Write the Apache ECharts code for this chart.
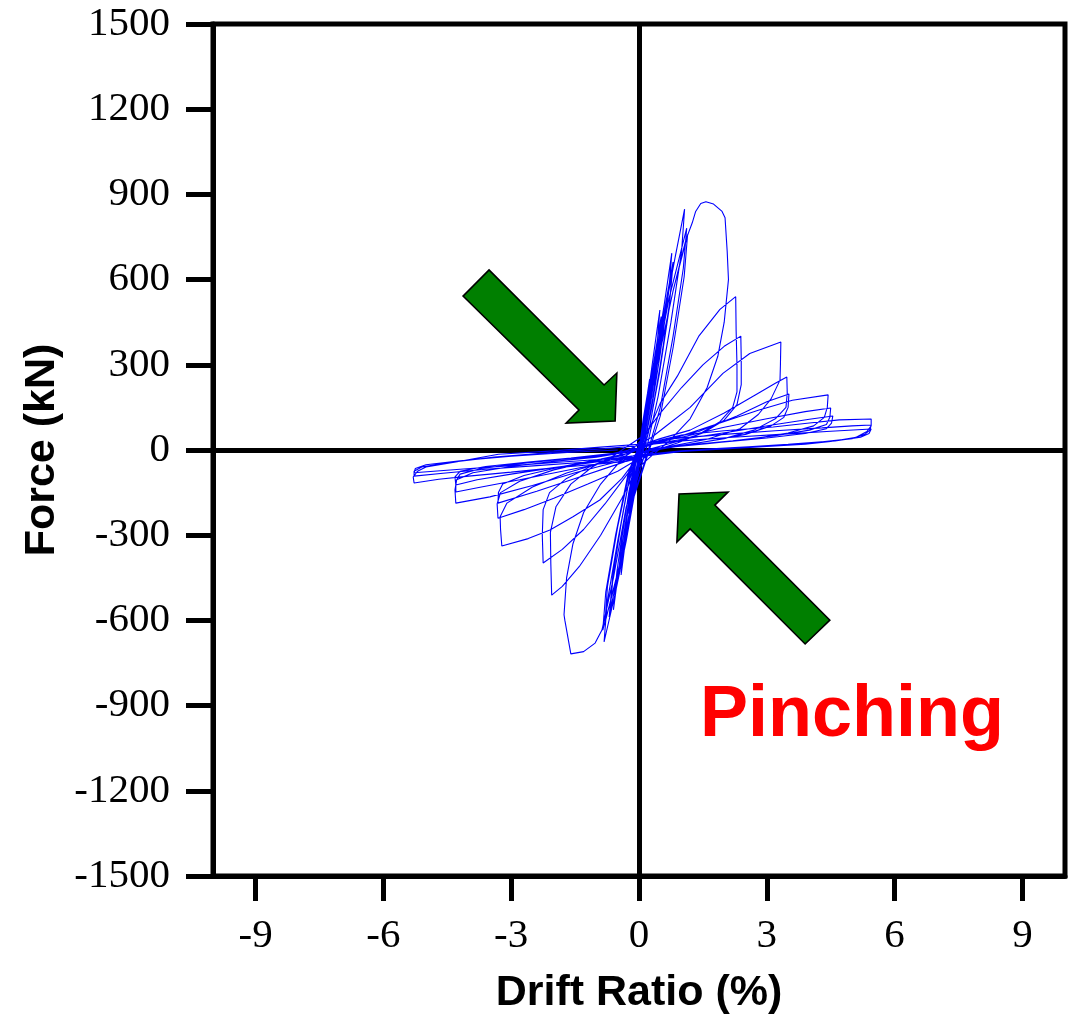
<!DOCTYPE html>
<html><head><meta charset="utf-8">
<script src="https://cdn.jsdelivr.net/npm/echarts@6/dist/echarts.min.js"></script>
<style>html,body{margin:0;padding:0;background:#fff}#c{width:1071px;height:1017px}</style>
</head><body><div id="c"></div>
<script>
// Tick labels
const xTicks = [-9, -6, -3, 0, 3, 6, 9];
const yTicks = [-1500, -1200, -900, -600, -300, 0, 300, 600, 900, 1200, 1500];

// Hysteresis cycles: [drift %, force kN]
const loop01 = [[0,0],[0.1,110],[0.2,200],[0.25,250],[0.2,170],[0.1,60],[0,-10],[-0.1,-100],[-0.22,-230],[-0.17,-150],[-0.08,-50],[0,0]];
const loop02 = [[0,0],[0.12,110],[0.27,240],[0.21,160],[0.08,40],[-0.02,-30],[-0.12,-110],[-0.24,-225],[-0.18,-140],[-0.06,-30],[0.02,10]];
const loop03 = [[0.02,10],[0.15,130],[0.3,290],[0.42,420],[0.49,493],[0.43,380],[0.3,220],[0.12,50],[-0.02,-40],[-0.15,-150],[-0.3,-300],[-0.42,-440],[-0.36,-330],[-0.22,-170],[-0.05,-20],[0.05,20]];
const loop04 = [[0.05,20],[0.2,170],[0.38,340],[0.52,470],[0.45,360],[0.3,190],[0.12,40],[-0.05,-60],[-0.2,-200],[-0.45,-430],[-0.38,-320],[-0.22,-160],[-0.05,-20],[0.05,25]];
const loop04b = [[0.05,25],[0.22,180],[0.4,340],[0.54,455],[0.47,350],[0.32,180],[0.14,35],[-0.04,-70],[-0.22,-220],[-0.47,-420],[-0.4,-310],[-0.24,-150],[-0.06,-15],[0.05,25]];
const loop05 = [[0.05,25],[0.2,150],[0.4,330],[0.6,520],[0.77,693],[0.7,560],[0.5,340],[0.3,150],[0.1,0],[-0.1,-120],[-0.3,-290],[-0.5,-450],[-0.6,-563],[-0.52,-430],[-0.35,-250],[-0.15,-80],[0.02,10]];
const loop06 = [[0.02,10],[0.25,180],[0.5,410],[0.8,662],[0.72,520],[0.5,300],[0.25,80],[0.05,-30],[-0.2,-200],[-0.45,-400],[-0.7,-588],[-0.62,-450],[-0.42,-260],[-0.2,-80],[0.05,20]];
const loop06b = [[0.05,20],[0.3,210],[0.55,430],[0.79,640],[0.7,490],[0.48,270],[0.22,60],[0.02,-50],[-0.22,-220],[-0.46,-410],[-0.68,-570],[-0.6,-430],[-0.4,-240],[-0.18,-60],[0.05,20]];
const loop07 = [[0.05,20],[0.3,220],[0.6,480],[0.85,680],[1.07,848],[1.0,700],[0.75,450],[0.45,190],[0.2,20],[-0.05,-110],[-0.3,-320],[-0.55,-500],[-0.82,-676],[-0.75,-540],[-0.5,-320],[-0.25,-120],[0.05,30]];
const loop08 = [[0.05,30],[0.35,250],[0.7,530],[1.12,781],[1.04,640],[0.8,400],[0.5,150],[0.2,-10],[-0.1,-150],[-0.4,-380],[-0.85,-634],[-0.78,-500],[-0.55,-300],[-0.25,-80],[0.05,35]];
const loop09 = [[0.05,35],[0.4,280],[0.8,560],[1.14,757],[1.06,610],[0.8,360],[0.5,120],[0.2,-20],[-0.15,-180],[-0.45,-400],[-0.8,-610],[-0.74,-480],[-0.5,-270],[-0.2,-60],[0.1,40]];
const loop10 = [[0.1,40],[0.4,280],[0.8,560],[1.1,740],[1.25,800],[1.33,840],[1.45,868],[1.57,874],[1.75,866],[1.95,840],[2.02,818],[2.07,700],[2.1,600],[2.0,450],[1.85,330],[1.6,220],[1.2,110],[0.7,30],[0.3,-20],[0,-60],[-0.3,-200],[-0.6,-450],[-0.87,-634],[-1.03,-680],[-1.3,-710],[-1.6,-718],[-1.74,-600],[-1.76,-580],[-1.7,-450],[-1.55,-330],[-1.3,-220],[-0.9,-120],[-0.5,-50],[-0.1,10],[0.2,60]];
const loop11 = [[0.2,60],[0.5,165],[0.9,260],[1.4,400],[1.9,495],[2.27,540],[2.28,420],[2.3,300],[2.3,205],[2.2,150],[1.9,100],[1.4,55],[0.9,25],[0.4,0],[0.1,-30],[-0.1,-80],[-0.4,-170],[-0.9,-300],[-1.4,-410],[-1.8,-480],[-2.05,-511],[-2.07,-400],[-2.08,-290],[-1.95,-200],[-1.6,-120],[-1.1,-60],[-0.6,-20],[-0.2,20],[0.1,50]];
const loop12 = [[0.1,50],[0.5,130],[1.0,220],[1.5,300],[2.0,365],[2.39,401],[2.4,320],[2.4,230],[2.3,160],[2.0,105],[1.5,60],[0.9,30],[0.3,5],[0,-30],[-0.3,-90],[-0.8,-190],[-1.3,-280],[-1.8,-350],[-2.25,-398],[-2.27,-300],[-2.25,-210],[-2.1,-150],[-1.7,-100],[-1.1,-55],[-0.5,-20],[0,20],[0.3,45]];
const loop13 = [[0.3,45],[0.6,80],[1.2,150],[1.97,270],[2.6,340],[3.33,380],[3.32,300],[3.31,246],[3.1,180],[2.8,125],[2.37,75],[1.6,38],[0.8,15],[0.2,-5],[-0.1,-40],[-0.4,-100],[-0.92,-176],[-1.55,-235],[-2.09,-282],[-2.6,-312],[-3.22,-338],[-3.25,-280],[-3.26,-235],[-3.1,-187],[-2.5,-130],[-1.7,-81],[-0.9,-46],[-0.3,-20],[0.1,20]];
const loop14 = [[0.1,20],[0.5,40],[1.2,70],[2.0,130],[2.8,200],[3.2,235],[3.47,257],[3.48,200],[3.45,150],[3.2,110],[2.7,70],[2.0,40],[1.2,20],[0.4,0],[0,-30],[-0.5,-75],[-1.2,-120],[-2.0,-170],[-2.7,-210],[-3.31,-240],[-3.33,-190],[-3.25,-150],[-2.8,-110],[-2.0,-70],[-1.2,-42],[-0.4,-20],[0.1,15]];
const loop15 = [[0.1,15],[0.6,35],[1.4,65],[2.3,120],[3.0,170],[3.52,197],[3.5,150],[3.4,115],[3.1,85],[2.5,55],[1.6,30],[0.6,8],[0,-25],[-0.6,-55],[-1.5,-100],[-2.4,-145],[-3.31,-187],[-3.3,-150],[-3.2,-120],[-2.7,-90],[-1.8,-58],[-0.9,-32],[-0.2,-10],[0.2,15]];
const loop16 = [[0.2,15],[0.8,40],[1.6,80],[2.8,140],[3.6,175],[4.44,194],[4.42,150],[4.35,115],[4.1,85],[3.5,60],[2.6,38],[1.6,22],[0.6,8],[0,-25],[-0.6,-45],[-1.5,-80],[-2.5,-125],[-3.5,-165],[-4.3,-187],[-4.32,-140],[-4.28,-105],[-3.9,-80],[-3.0,-58],[-2.0,-40],[-1.0,-25],[-0.2,-5],[0.2,20]];
const loop17 = [[0.2,20],[1.0,45],[2.0,80],[3.0,110],[3.9,135],[4.5,148],[4.48,115],[4.4,90],[4.0,70],[3.2,50],[2.2,32],[1.2,18],[0.3,5],[-0.1,-25],[-0.8,-45],[-1.8,-75],[-2.8,-105],[-3.7,-130],[-4.3,-148],[-4.3,-110],[-4.2,-85],[-3.7,-65],[-2.8,-48],[-1.8,-32],[-0.8,-18],[0,0],[0.3,20]];
const loop18 = [[0.3,20],[1.2,42],[2.2,65],[3.2,90],[4.0,108],[4.55,120],[4.52,95],[4.4,75],[3.9,58],[3.0,42],[2.0,28],[1.0,15],[0.2,0],[-0.2,-25],[-1.0,-42],[-2.0,-62],[-3.0,-85],[-3.8,-105],[-4.3,-123],[-4.32,-95],[-4.2,-75],[-3.6,-58],[-2.6,-42],[-1.6,-28],[-0.6,-12],[0.1,10]];
const loop19 = [[0.1,10],[0.5,35],[1.0,53],[2.0,68],[3.15,81],[4.0,95],[4.7,106],[5.45,109],[5.45,85],[5.35,65],[5.1,45],[4.5,30],[3.9,20],[2.4,7],[1.0,-5],[0.2,-20],[-0.3,-40],[-1.0,-50],[-2.0,-63],[-3.0,-78],[-4.0,-92],[-4.7,-103],[-5.28,-116],[-5.3,-95],[-5.2,-75],[-5.0,-60],[-4.3,-42],[-3.3,-15],[-2.0,-3],[-0.9,10],[0,20]];
const loop20 = [[0,20],[0.8,40],[2.0,55],[3.2,68],[4.3,78],[5.0,85],[5.45,88],[5.42,70],[5.3,55],[5.0,40],[4.2,27],[3.0,15],[1.6,3],[0.4,-12],[-0.3,-30],[-1.2,-42],[-2.4,-55],[-3.6,-68],[-4.6,-82],[-5.28,-92],[-5.28,-75],[-5.1,-60],[-4.5,-45],[-3.4,-25],[-2.0,-8],[-0.8,5],[0,15]];
const loop21 = [[0,15],[1.0,32],[2.2,45],[3.4,56],[4.5,66],[5.45,74],[5.4,58],[5.2,45],[4.6,32],[3.5,20],[2.2,8],[1.0,-3],[0,-18],[-0.6,-30],[-1.8,-42],[-3.0,-55],[-4.2,-68],[-5.28,-80],[-5.25,-65],[-5.0,-52],[-4.2,-38],[-3.0,-22],[-1.6,-8],[-0.5,0]];

const loops = [loop01,loop02,loop03,loop04,loop04b,loop05,loop06,loop06b,loop07,loop08,loop09,loop10,loop11,loop12,loop13,loop14,loop15,loop16,loop17,loop18,loop19,loop20,loop21];
const curve = [].concat(...loops);

// Annotation shapes in data units (drift %, force kN)
const arrowNW = [[-4.13,542],[-3.52,634],[-0.82,229],[-0.52,271],[-0.56,102],[-1.71,95],[-1.41,141]];
const arrowSE = [[4.48,-599],[3.90,-683],[1.20,-278],[0.89,-324],[0.94,-155],[2.09,-148],[1.78,-194]];
const noteAnchor = [5.0, -936];
const noteText = 'Pinching';

const chart = echarts.init(document.getElementById('c'), null, {renderer: 'canvas'});
const serif = 'Liberation Serif';
const sans = 'Liberation Sans';
chart.setOption({
  animation: false,
  backgroundColor: '#fff',
  grid: {left: 213, top: 24, width: 852, height: 852, outerBoundsMode: 'none', containLabel: false,
         show: true, borderColor: '#000', borderWidth: 5, backgroundColor: '#fff'},
  xAxis: {
    type: 'value', min: -10, max: 10,
    name: 'Drift Ratio (%)', nameLocation: 'middle', nameGap: 96,
    nameTextStyle: {fontFamily: sans, fontWeight: 'bold', fontSize: 43, color: '#000'},
    axisLine: {onZero: false, lineStyle: {color: '#000', width: 5}},
    axisTick: {customValues: xTicks, length: 25, lineStyle: {color: '#000', width: 5}},
    axisLabel: {customValues: xTicks, margin: 40, fontFamily: serif, fontSize: 41, color: '#000', formatter: v => String(v)},
    splitLine: {show: false}
  },
  yAxis: {
    type: 'value', min: -1500, max: 1500, interval: 300,
    name: 'Force (kN)', nameLocation: 'middle', nameGap: 148,
    nameTextStyle: {fontFamily: sans, fontWeight: 'bold', fontSize: 43, color: '#000'},
    axisLine: {onZero: false, lineStyle: {color: '#000', width: 5}},
    axisTick: {customValues: yTicks, length: 27, lineStyle: {color: '#000', width: 5}},
    axisLabel: {customValues: yTicks, margin: 43, fontFamily: serif, fontSize: 41, color: '#000', formatter: v => String(v)},
    splitLine: {show: false}
  },
  series: [
    {
      type: 'line', data: [[0, 0]], showSymbol: false, symbol: 'none', z: 1,
      lineStyle: {width: 0},
      markLine: {silent: true, symbol: 'none', label: {show: false}, animation: false,
        lineStyle: {color: '#000', width: 5, type: 'solid'},
        data: [{xAxis: 0}, {yAxis: 0}]}
    },
    {
      type: 'line', data: curve, showSymbol: false, symbol: 'none', z: 5,
      lineStyle: {color: '#0000ff', width: 1.1}
    }
  ]
});

function px(p) { return chart.convertToPixel({gridIndex: 0}, p); }
const a = px(noteAnchor);
chart.setOption({
  graphic: [
    {type: 'polygon', z: 10, shape: {points: arrowNW.map(px)}, style: {fill: '#007f00', stroke: '#000', lineWidth: 1.6}},
    {type: 'polygon', z: 10, shape: {points: arrowSE.map(px)}, style: {fill: '#007f00', stroke: '#000', lineWidth: 1.6}},
    {type: 'text', z: 10, x: a[0], y: a[1], style: {text: noteText, fill: '#ff0000', font: 'bold 72px "Liberation Sans"', textAlign: 'center', textVerticalAlign: 'middle'}}
  ]
});
</script>
</body></html>
